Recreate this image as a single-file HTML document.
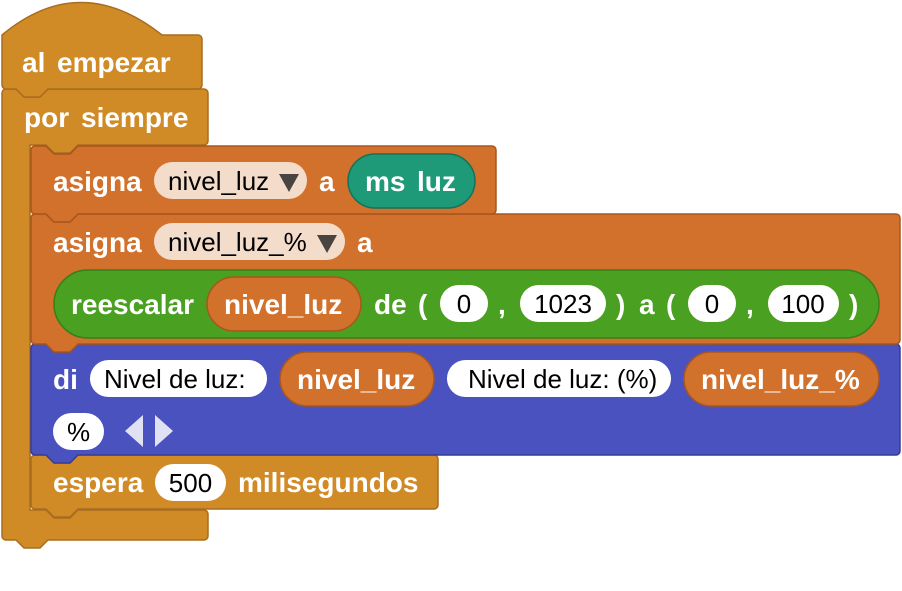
<!DOCTYPE html>
<html><head><meta charset="utf-8"><style>
html,body{margin:0;padding:0;background:#fff;}
svg{display:block;}
.b{font-family:"Liberation Sans",sans-serif;font-weight:bold;font-size:28px;fill:#fff;}
.n{font-family:"Liberation Sans",sans-serif;font-size:26px;fill:#000;}
</style></head><body>
<svg width="902" height="591" viewBox="0 0 902 591" xmlns="http://www.w3.org/2000/svg">
<path d="M2,93 a4,4 0 0 1 4,-4 H16 l8,8 h16 l8,-8 H204 a4,4 0 0 1 4,4 V141 a4,4 0 0 1 -4,4 H78 l-8,8 h-16 l-8,-8 H30 V510 H46 l8,8 h16 l8,-8 H204 a4,4 0 0 1 4,4 V536 a4,4 0 0 1 -4,4 H48 l-8,8 h-16 l-8,-8 H6 a4,4 0 0 1 -4,-4 Z" fill="#d08b27" stroke="#a86d1e" stroke-width="1.5"/>
<path d="M2,35 Q80,-30 162,35 H198 a4,4 0 0 1 4,4 V85 a4,4 0 0 1 -4,4 H48 l-8,8 h-16 l-8,-8 H6 a4,4 0 0 1 -4,-4 Z" fill="#d08b27" stroke="#a86d1e" stroke-width="1.5"/>
<path d="M31,459 a4,4 0 0 1 4,-4 H46 l8,8 h16 l8,-8 H434 a4,4 0 0 1 4,4 V505 a4,4 0 0 1 -4,4 H78 l-8,8 h-16 l-8,-8 H35 a4,4 0 0 1 -4,-4 Z" fill="#d08b27" stroke="#a86d1e" stroke-width="1.5"/>
<path d="M31,348 a4,4 0 0 1 4,-4 H46 l8,8 h16 l8,-8 H896 a4,4 0 0 1 4,4 V451 a4,4 0 0 1 -4,4 H78 l-8,8 h-16 l-8,-8 H35 a4,4 0 0 1 -4,-4 Z" fill="#4a52bf" stroke="#363c93" stroke-width="1.5"/>
<path d="M31,218 a4,4 0 0 1 4,-4 H46 l8,8 h16 l8,-8 H896 a4,4 0 0 1 4,4 V340 a4,4 0 0 1 -4,4 H78 l-8,8 h-16 l-8,-8 H35 a4,4 0 0 1 -4,-4 Z" fill="#d2712b" stroke="#a8561f" stroke-width="1.5"/>
<path d="M31,150 a4,4 0 0 1 4,-4 H46 l8,8 h16 l8,-8 H492 a4,4 0 0 1 4,4 V210 a4,4 0 0 1 -4,4 H78 l-8,8 h-16 l-8,-8 H35 a4,4 0 0 1 -4,-4 Z" fill="#d2712b" stroke="#a8561f" stroke-width="1.5"/>

<text class="b" x="22" y="72">al</text><text class="b" x="57" y="72">empezar</text>
<text class="b" x="24" y="127">por</text><text class="b" x="81" y="127">siempre</text>

<text class="b" x="53" y="191">asigna</text>
<rect x="154" y="162" width="153" height="37" rx="18.5" fill="#f4dccb"/>
<text class="n" x="168" y="190">nivel_luz</text>
<polygon points="279,174 299,174 289,192" fill="#4a4440"/>
<text class="b" x="319" y="191">a</text>
<rect x="348" y="154" width="127" height="54" rx="27" fill="#1f9a78" stroke="#16715a" stroke-width="1.5"/>
<text class="b" x="365" y="191">ms</text><text class="b" x="417" y="191">luz</text>

<text class="b" x="53" y="252">asigna</text>
<rect x="154" y="223" width="191" height="37" rx="18.5" fill="#f4dccb"/>
<text class="n" x="168" y="251">nivel_luz_%</text>
<polygon points="317,235 337,235 327,253" fill="#4a4440"/>
<text class="b" x="357" y="252">a</text>

<rect x="54" y="270" width="825" height="68" rx="34" fill="#4aa021" stroke="#3a7d1a" stroke-width="1.5"/>
<text class="b" x="71" y="314">reescalar</text>
<rect x="207" y="277" width="154" height="54" rx="27" fill="#d2712b" stroke="#a8561f" stroke-width="1.5"/>
<text class="b" x="224" y="314">nivel_luz</text>
<text class="b" x="374" y="314">de</text>
<text class="b" x="418" y="314">(</text>
<rect x="440" y="285" width="48" height="37" rx="18.5" fill="#fff"/>
<text class="n" x="464" y="313" text-anchor="middle">0</text>
<text class="b" x="498" y="314">,</text>
<rect x="520" y="285" width="86" height="37" rx="18.5" fill="#fff"/>
<text class="n" x="563" y="313" text-anchor="middle">1023</text>
<text class="b" x="616" y="314">)</text>
<text class="b" x="639" y="314">a</text>
<text class="b" x="666" y="314">(</text>
<rect x="688" y="285" width="48" height="37" rx="18.5" fill="#fff"/>
<text class="n" x="712" y="313" text-anchor="middle">0</text>
<text class="b" x="746" y="314">,</text>
<rect x="768" y="285" width="71" height="37" rx="18.5" fill="#fff"/>
<text class="n" x="803" y="313" text-anchor="middle">100</text>
<text class="b" x="849" y="314">)</text>

<text class="b" x="53" y="389">di</text>
<rect x="90" y="360" width="177" height="37" rx="18.5" fill="#fff"/>
<text class="n" x="104" y="388">Nivel de luz:</text>
<rect x="280" y="352" width="154" height="54" rx="27" fill="#d2712b" stroke="#a8561f" stroke-width="1.5"/>
<text class="b" x="297" y="389">nivel_luz</text>
<rect x="447" y="360" width="224" height="37" rx="18.5" fill="#fff"/>
<text class="n" x="468" y="388">Nivel de luz: (%)</text>
<rect x="684" y="352" width="195" height="54" rx="27" fill="#d2712b" stroke="#a8561f" stroke-width="1.5"/>
<text class="b" x="701" y="389">nivel_luz_%</text>
<rect x="53" y="413" width="51" height="37" rx="18.5" fill="#fff"/>
<text class="n" x="78.5" y="441" text-anchor="middle">%</text>
<polygon points="143,415 143,447 125,431" fill="#e0e2f4"/>
<polygon points="155,415 155,447 173,431" fill="#e0e2f4"/>

<text class="b" x="53" y="492">espera</text>
<rect x="155" y="464" width="71" height="37" rx="18.5" fill="#fff"/>
<text class="n" x="190.5" y="492" text-anchor="middle">500</text>
<text class="b" x="238" y="492">milisegundos</text>
</svg>
</body></html>
